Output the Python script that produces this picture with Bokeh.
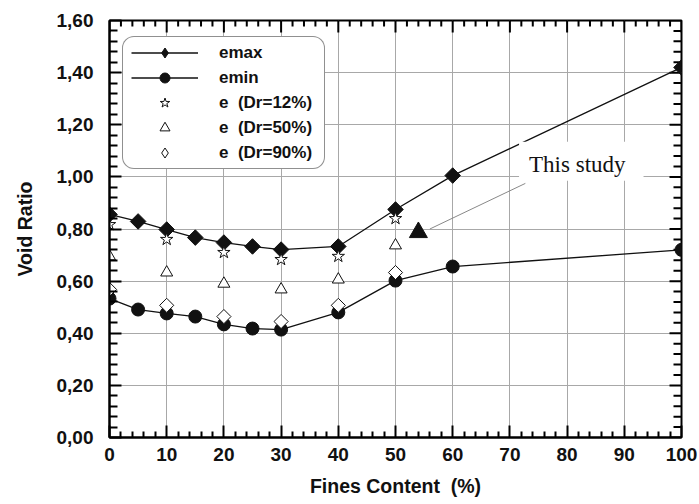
from bokeh.plotting import figure
from bokeh.models import FixedTicker, Legend, LegendItem, Label, Range1d
from bokeh.embed import file_html
from bokeh.resources import INLINE
import numpy as np

# ---- data ----
fines_all = [0, 5, 10, 15, 20, 25, 30, 40, 50, 60, 100]
emax = [0.856, 0.829, 0.798, 0.767, 0.748, 0.733, 0.721, 0.733, 0.875, 1.005, 1.420]
emin = [0.533, 0.491, 0.476, 0.464, 0.434, 0.418, 0.414, 0.480, 0.602, 0.656, 0.720]
fines_dr = [0, 10, 20, 30, 40, 50]
e_dr12 = [0.817, 0.760, 0.710, 0.683, 0.695, 0.840]
e_dr50 = [0.695, 0.633, 0.590, 0.568, 0.606, 0.737]
e_dr90 = [0.568, 0.507, 0.464, 0.445, 0.507, 0.633]
study_fc = [54]
study_e = [0.787]
study_label = "This study"
study_label_pos = (71.6, 1.060)
study_pointer_x = [72.7, 56.0]
study_pointer_y = [0.975, 0.80]

x_ticks = [0, 10, 20, 30, 40, 50, 60, 70, 80, 90, 100]
y_ticks = [0.0, 0.2, 0.4, 0.6, 0.8, 1.0, 1.2, 1.4, 1.6]
y_tick_labels = ["0,00", "0,20", "0,40", "0,60", "0,80", "1,00", "1,20", "1,40", "1,60"]
x_label = "Fines Content\u00a0\u00a0(%)"
y_label = "Void Ratio"

FONT = "Liberation Sans"
INK = "black"
DARK = "#111111"
TICK = "black"

W, H = 699, 504
BL, BT, BR, BB = 109, 20, 18, 67
XMIN, XMAX, YMIN, YMAX = 0, 100, 0, 1.6

p = figure(width=W, height=H, output_backend="svg", toolbar_location=None,
           x_range=Range1d(XMIN, XMAX), y_range=Range1d(YMIN, YMAX),
           min_border_left=BL, min_border_right=BR, min_border_top=BT, min_border_bottom=BB)
p.outline_line_color = INK
p.outline_line_width = 2
p.background_fill_color = "white"

x_minor = [float(v) for v in np.arange(0, 101, 2) if v % 10 != 0]
y_minor = [float(v) for v in np.round(np.arange(0, 1.601, 0.04), 2) if round(v / 0.2, 6) % 1 != 0]
xt = FixedTicker(ticks=x_ticks, minor_ticks=x_minor)
yt = FixedTicker(ticks=y_ticks, minor_ticks=y_minor)

MAJ, XMIN_LEN, YMIN_LEN, TW = 12, 6, 8, 2

for ax, mlen in ((p.xaxis[0], XMIN_LEN), (p.yaxis[0], YMIN_LEN)):
    ax.axis_line_color = INK
    ax.axis_line_width = 2
    ax.major_tick_in = MAJ
    ax.major_tick_out = 0
    ax.minor_tick_in = mlen
    ax.minor_tick_out = 0
    ax.major_tick_line_color = TICK
    ax.minor_tick_line_color = TICK
    ax.major_tick_line_width = TW
    ax.minor_tick_line_width = TW
    ax.major_label_text_font = FONT
    ax.major_label_text_font_style = "bold"
    ax.major_label_text_font_size = "19px"
    ax.major_label_text_color = DARK
    ax.axis_label_text_font = FONT
    ax.axis_label_text_font_style = "bold"
    ax.axis_label_text_font_size = "19.5px"
    ax.axis_label_text_color = DARK

p.xaxis.ticker = xt
p.yaxis.ticker = yt
p.yaxis.major_label_overrides = dict(zip(y_ticks, y_tick_labels))
p.xaxis.axis_label = x_label
p.yaxis.axis_label = y_label
p.xaxis.major_label_standoff = 10
p.yaxis.major_label_standoff = 16
p.xaxis.axis_label_standoff = 11
p.yaxis.axis_label_standoff = 18

p.xgrid.ticker = FixedTicker(ticks=x_ticks, minor_ticks=[])
p.ygrid.ticker = FixedTicker(ticks=y_ticks, minor_ticks=[])
p.grid.grid_line_color = "#a8a8a8"
p.grid.grid_line_width = 1

# inward tick marks on top and right edges: thin rects centred on the frame edge
for vals, ln in ((x_ticks, MAJ), (x_minor, XMIN_LEN)):
    p.rect(x=vals, y=[YMAX] * len(vals), width=TW, height=2 * ln,
           width_units="screen", height_units="screen", fill_color=TICK, line_color=None)
for vals, ln in ((y_ticks, MAJ), (y_minor, YMIN_LEN)):
    p.rect(x=[XMAX] * len(vals), y=vals, width=2 * ln, height=TW,
           width_units="screen", height_units="screen", fill_color=TICK, line_color=None)

# pointer line for "This study"
p.line(study_pointer_x, study_pointer_y, line_color="#888888", line_width=1)
lab = Label(x=study_label_pos[0], y=study_label_pos[1], text=study_label,
            text_font="Liberation Serif", text_font_size="23px", text_color=DARK,
            text_baseline="middle", background_fill_color="white")
try:
    lab.padding = (10, 18, 10, 4)
except Exception:
    pass
p.add_layout(lab)

l_max = p.line(fines_all, emax, line_color=DARK, line_width=1.3)
s_max = p.scatter(fines_all, emax, marker="square", angle=45, angle_units="deg", size=11,
                  fill_color=DARK, line_color=DARK)
l_min = p.line(fines_all, emin, line_color=DARK, line_width=1.3)
s_min = p.scatter(fines_all, emin, marker="circle", size=13, fill_color=DARK, line_color=DARK)
s12 = p.scatter(fines_dr, e_dr12, marker="star", size=13, fill_color="white", line_color=DARK, line_width=1)
s50 = p.scatter(fines_dr, e_dr50, marker="triangle", size=12, fill_color="white", line_color=DARK, line_width=1)
s90 = p.scatter(fines_dr, e_dr90, marker="square", angle=45, angle_units="deg", size=10,
                fill_color="white", line_color=DARK, line_width=1)
s_study = p.scatter(study_fc, study_e, marker="triangle", size=18, fill_color=DARK, line_color=DARK)

# legend-only proxies (a single NaN point, never drawn on the plot)
lg_max = p.scatter([np.nan], [np.nan], marker="diamond", fill_color=DARK, line_color=DARK)
lg_90 = p.scatter([np.nan], [np.nan], marker="diamond", fill_color="white", line_color=DARK, line_width=1)

legend = Legend(items=[
    LegendItem(label="emax", renderers=[l_max, lg_max]),
    LegendItem(label="emin", renderers=[l_min, s_min]),
    LegendItem(label="e  (Dr=12%)", renderers=[s12]),
    LegendItem(label="e  (Dr=50%)", renderers=[s50]),
    LegendItem(label="e  (Dr=90%)", renderers=[lg_90]),
], location=(13, (H - BT - BB) - 18 - 131))
legend.margin = 0
legend.spacing = 0
legend.glyph_height = 25
legend.label_height = 25
legend.glyph_width = 67
legend.label_standoff = 21
try:
    legend.padding = dict(left=8, right=12, top=3, bottom=3)
except Exception:
    legend.padding = 3
legend.label_text_font = FONT
legend.label_text_font_style = "bold"
legend.label_text_font_size = "17px"
legend.label_text_color = DARK
legend.border_line_color = "#222222"
legend.border_line_width = 1.5
legend.background_fill_color = "white"
legend.background_fill_alpha = 1.0
try:
    legend.border_radius = 12
except Exception:
    pass
p.add_layout(legend)

open("out.html", "w").write(file_html(p, INLINE))
